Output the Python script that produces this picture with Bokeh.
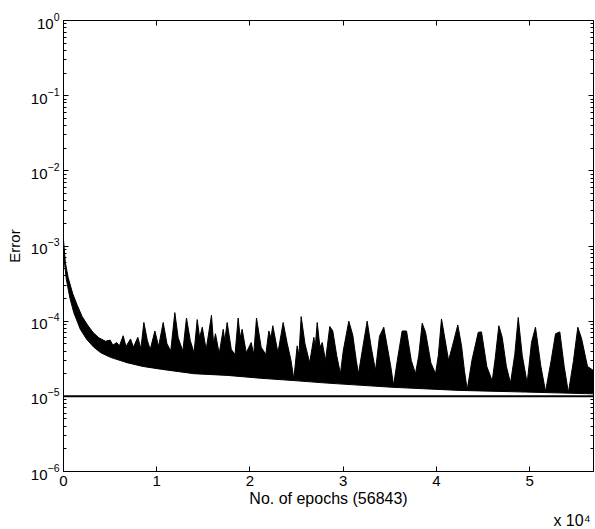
from bokeh.plotting import figure
from bokeh.models import LinearAxis, LogAxis, FixedTicker, Span, Title
from bokeh.embed import file_html
from bokeh.resources import INLINE

# ---- data ----
n_epochs = 56843
goal_error = 1e-5

# upper boundary of the error band (epoch, error)
upper_x = [0, 200, 500, 1000, 1500, 2000, 2600, 3200, 3800, 4500, 5000, 5300, 5700, 6000,
           6400, 6700, 7190, 7500, 7970, 8300, 8620, 9000, 9300, 9800, 10200, 10690, 11100,
           11500, 11940, 12300, 12800, 13190, 13600, 14000, 14340, 14600, 14880, 15300, 15870,
           16100, 16300, 16700, 17130, 17300, 17550, 18000, 18400, 18730, 18950, 19160, 19600,
           20130, 20400, 20700, 21200, 21700, 22020, 22250, 22450, 23000, 23560, 24000, 24400,
           24700, 25060, 25250, 25490, 25900, 26400, 26850, 27000, 27210, 27500, 27750, 28100,
           28560, 28880, 29300, 29700, 30000, 30600, 31030, 31400, 31640, 32100, 32570, 33000,
           33460, 33890, 34350, 34710, 35100, 35400, 35800, 36320, 36790, 37300, 37750, 38100,
           38470, 38830, 39400, 39900, 40200, 40540, 40790, 41300, 41860, 42290, 42690, 43000,
           43300, 43800, 44480, 44830, 45400, 45980, 46300, 46690, 47050, 47500, 47940, 48400,
           48770, 49200, 49730, 50190, 50620, 51200, 51700, 52300, 52770, 53230, 53700, 54150,
           54700, 55160, 55560, 56200, 56843]
upper_y = [1.2e-3, 6.0e-4, 3.8e-4, 2.3e-4, 1.6e-4, 1.15e-4, 8.8e-5, 7.0e-5, 6.0e-5, 5.4e-5,
           5.6e-5, 4.8e-5, 5.2e-5, 4.7e-5,
           6.4e-5, 4.6e-5, 5.8e-5, 4.5e-5, 6.1e-5, 4.3e-5, 9.6e-5, 5.5e-5, 4.2e-5, 7.4e-5,
           4.6e-5, 9.6e-5, 5.0e-5, 4.0e-5, 1.3e-4, 6.0e-5, 4.0e-5, 1.1e-4, 5.5e-5, 3.8e-5,
           1.05e-4, 6.0e-5, 8.3e-5, 4.2e-5, 1.2e-4, 5.0e-5, 6.8e-5, 3.7e-5, 7.8e-5, 5.5e-5,
           9.6e-5, 4.2e-5, 3.6e-5, 1.1e-4, 6.0e-5, 7.8e-5, 3.8e-5, 5.2e-5, 3.6e-5, 1.1e-4,
           4.5e-5, 3.6e-5, 7.4e-5, 6.0e-5, 8.7e-5, 3.8e-5, 9.6e-5, 5.0e-5, 3.0e-5, 1.7e-5,
           4.7e-5, 3.5e-5, 1.15e-4, 5.0e-5, 2.8e-5, 6.1e-5, 4.5e-5, 9.6e-5, 4.5e-5, 5.2e-5,
           3.0e-5, 8.5e-5, 7.4e-5, 3.5e-5, 2.0e-5, 4.0e-5, 1.0e-4, 6.5e-5, 3.0e-5, 2.0e-5,
           4.5e-5, 1.0e-4, 4.5e-5, 2.2e-5, 6.3e-5, 8.3e-5, 4.7e-5, 2.5e-5, 1.4e-5, 3.0e-5,
           7.4e-5, 7.4e-5, 3.0e-5, 2.0e-5, 3.5e-5, 9.4e-5, 7.1e-5, 2.8e-5, 2.0e-5, 3.5e-5,
           1.07e-4, 7.1e-5, 3.0e-5, 5.5e-5, 8.9e-5, 4.7e-5, 2.2e-5, 1.22e-5, 3.0e-5, 7.1e-5,
           7.2e-5, 2.5e-5, 1.6e-5, 3.2e-5, 8.7e-5, 6.1e-5, 2.5e-5, 1.5e-5, 3.6e-5, 1.12e-4,
           3.5e-5, 1.5e-5, 5.2e-5, 8.3e-5, 2.5e-5, 1.16e-5, 3.0e-5, 6.8e-5, 7.2e-5, 2.5e-5,
           1.12e-5, 3.0e-5, 8.3e-5, 5.9e-5, 2.5e-5, 2.2e-5]

# lower boundary of the error band (epoch, error)
lower_x = [0, 300, 700, 1100, 1800, 2500, 3250, 4000, 5040, 6830, 8500, 10400, 14000, 17560,
           21130, 24700, 28280, 35250, 42400, 49550, 56843]
lower_y = [8.0e-4, 3.6e-4, 2.0e-4, 1.3e-4, 7.8e-5, 5.7e-5, 4.5e-5, 3.8e-5, 3.3e-5, 2.8e-5,
           2.5e-5, 2.3e-5, 2.0e-5, 1.9e-5, 1.74e-5, 1.62e-5, 1.5e-5, 1.32e-5, 1.2e-5,
           1.14e-5, 1.08e-5]

x_ticks = [0, 10000, 20000, 30000, 40000, 50000]
x_tick_labels = ["0", "1", "2", "3", "4", "5"]
y_ticks = [1e-6, 1e-5, 1e-4, 1e-3, 1e-2, 1e-1, 1e0]
x_scale_note = "x 10\u2074"

FONT = "Liberation Sans"
FS = "15px"

p = figure(width=595, height=528, y_axis_type="log",
           x_range=(0, n_epochs), y_range=(1e-6, 1),
           output_backend="svg", toolbar_location=None,
           min_border_left=63, min_border_right=2, min_border_top=20, min_border_bottom=50,
           background_fill_color="white", border_fill_color="white")
p.grid.visible = False
p.outline_line_color = "black"
p.outline_line_width = 1

# error band
xs = upper_x + lower_x[::-1]
ys = upper_y + lower_y[::-1]
p.patch(xs, ys, fill_color="black", line_color="black", line_width=1)

# goal line
p.add_layout(Span(location=goal_error, dimension="width", line_color="black", line_width=2))

minor = [m * 10.0 ** e for e in range(-6, 0) for m in range(2, 10)]

def style(ax):
    ax.axis_line_color = "black"
    ax.major_tick_line_color = "black"
    ax.minor_tick_line_color = "black"
    ax.major_tick_in = 5
    ax.major_tick_out = 0
    ax.minor_tick_in = 3
    ax.minor_tick_out = 0
    ax.major_label_text_font = FONT
    ax.major_label_text_font_size = FS
    ax.major_label_text_color = "black"
    ax.axis_label_text_font = FONT
    ax.axis_label_text_font_size = FS
    ax.axis_label_text_font_style = "normal"
    ax.axis_label_text_color = "black"

xa = p.xaxis[0]
xa.ticker = FixedTicker(ticks=x_ticks, minor_ticks=[])
xa.major_label_overrides = {t: l for t, l in zip(x_ticks, x_tick_labels)}
xa.axis_label = "No. of epochs (56843)"
xa.major_label_standoff = 4
xa.axis_label_standoff = 1
style(xa)
xa.axis_label_text_font_size = "16px"

ya = p.yaxis[0]
ya.ticker = FixedTicker(ticks=y_ticks, minor_ticks=minor)
ya.axis_label = "Error"
ya.major_label_standoff = 4
ya.axis_label_standoff = 5
style(ya)

# mirrored tick marks (MATLAB box style) without labels
top = LinearAxis(ticker=FixedTicker(ticks=x_ticks, minor_ticks=[]))
style(top)
top.major_label_text_font_size = "1px"
top.major_label_text_color = None
top.major_label_standoff = 0
p.add_layout(top, "above")

right = LogAxis(ticker=FixedTicker(ticks=y_ticks, minor_ticks=minor))
style(right)
right.major_label_text_font_size = "1px"
right.major_label_text_color = None
right.major_label_standoff = 0
p.add_layout(right, "right")

# "x 10^4" multiplier note under the right end of the x axis
p.add_layout(Title(text=x_scale_note, align="right", offset=3, standoff=0,
                   text_font=FONT, text_font_size="16px", text_font_style="normal",
                   text_color="black"), "below")

open("out.html", "w").write(file_html(p, INLINE))
